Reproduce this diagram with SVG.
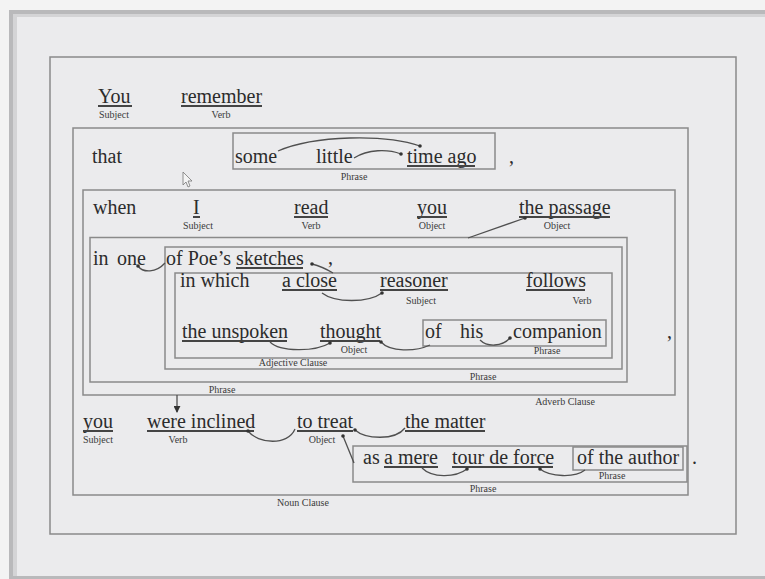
<svg xmlns="http://www.w3.org/2000/svg" width="765" height="579" viewBox="0 0 765 579">
<style>
.w{font-family:"Liberation Serif","Times New Roman",serif;font-size:20px;fill:#2c2c2c}
.l{font-family:"Liberation Serif","Times New Roman",serif;font-size:10px;fill:#3a3a3a;text-anchor:middle}
.box{fill:none;stroke:#8a8a8a;stroke-width:1.5}
.u{stroke:#444;stroke-width:2}
.c{fill:none;stroke:#505050;stroke-width:1.3}
</style>
<defs>
<marker id="dot" viewBox="0 0 4 4" refX="2" refY="2" markerWidth="4" markerHeight="4" markerUnits="userSpaceOnUse"><circle cx="2" cy="2" r="1.8" fill="#333"/></marker>
<marker id="arr" viewBox="0 0 8 8" refX="7" refY="4" markerWidth="7" markerHeight="7" markerUnits="userSpaceOnUse" orient="auto"><path d="M0,0 L8,4 L0,8 z" fill="#333"/></marker>
</defs>
<rect x="0" y="0" width="765" height="579" fill="#f3f3f3"/>
<rect x="9" y="10" width="756" height="569" fill="#b9b9bb"/>
<rect x="13" y="14" width="752" height="562" fill="#d4d4d6"/>
<rect x="17" y="17" width="748" height="559" fill="#ebebed"/>
<rect x="50" y="57" width="686" height="477" class="box" id="frame"/>

<g id="main-clause">
<text class="w" x="98" y="103">You</text><line class="u" x1="98" y1="106" x2="132" y2="106"/>
<text class="l" x="114" y="118">Subject</text>
<text class="w" x="181" y="103">remember</text><line class="u" x1="181" y1="106" x2="262" y2="106"/>
<text class="l" x="221" y="118">Verb</text>
</g>

<g id="noun-clause">
<rect class="box" x="73" y="128" width="615" height="367"/>
<text class="l" x="303" y="506">Noun Clause</text>
<text class="w" x="92" y="163">that</text>
<text class="w" x="509" y="163">,</text>
<text class="w" x="692" y="464">.</text>
</g>

<g id="phrase-time">
<rect class="box" x="233" y="133" width="262" height="36"/>
<text class="w" x="235" y="163">some</text>
<text class="w" x="316" y="163">little</text>
<text class="w" x="407" y="163">time ago</text><line class="u" x1="407" y1="166" x2="475" y2="166"/>
<text class="l" x="354" y="180">Phrase</text>
</g>

<g id="adverb-clause">
<rect class="box" x="83" y="190" width="592" height="205"/>
<text class="l" x="565" y="405">Adverb Clause</text>
<text class="w" x="93" y="214">when</text>
<text class="w" x="193" y="214">I</text><line class="u" x1="193" y1="217" x2="200" y2="217"/>
<text class="l" x="198" y="229">Subject</text>
<text class="w" x="294" y="214">read</text><line class="u" x1="294" y1="217" x2="328" y2="217"/>
<text class="l" x="311" y="229">Verb</text>
<text class="w" x="417" y="214">you</text><line class="u" x1="417" y1="217" x2="447" y2="217"/>
<text class="l" x="432" y="229">Object</text>
<text class="w" x="519" y="214">the passage</text><line class="u" x1="519" y1="217" x2="610" y2="217"/>
<text class="l" x="557" y="229">Object</text>
<text class="w" x="667" y="338">,</text>
</g>

<g id="phrase-one">
<rect class="box" x="90" y="237.5" width="537" height="144.5"/>
<text class="l" x="222" y="393">Phrase</text>
<text class="w" x="93" y="265">in</text>
<text class="w" x="117" y="265">one</text>
</g>

<g id="phrase-sketches">
<rect class="box" x="165" y="247" width="457" height="122"/>
<text class="l" x="483" y="380">Phrase</text>
<text class="w" x="166" y="265">of Poe’s</text>
<text class="w" x="236" y="265">sketches</text><line class="u" x1="236" y1="268" x2="303" y2="268"/>
<text class="w" x="328" y="264">,</text>
</g>

<g id="adjective-clause">
<rect class="box" x="175" y="273" width="437" height="85"/>
<text class="l" x="293" y="366">Adjective Clause</text>
<text class="w" x="180" y="287">in which</text>
<text class="w" x="282" y="287">a close</text><line class="u" x1="282" y1="290" x2="337" y2="290"/>
<text class="w" x="380" y="287">reasoner</text><line class="u" x1="380" y1="290" x2="448" y2="290"/>
<text class="l" x="421" y="304">Subject</text>
<text class="w" x="526" y="287">follows</text><line class="u" x1="526" y1="290" x2="585" y2="290"/>
<text class="l" x="582" y="304">Verb</text>
<text class="w" x="182" y="338">the unspoken</text><line class="u" x1="182" y1="341" x2="287" y2="341"/>
<text class="w" x="320" y="338">thought</text><line class="u" x1="320" y1="341" x2="380" y2="341"/>
<text class="l" x="354" y="353">Object</text>
</g>

<g id="phrase-companion">
<rect class="box" x="423" y="320" width="183" height="26"/>
<text class="w" x="425" y="338">of</text>
<text class="w" x="460" y="338">his</text>
<text class="w" x="513" y="338">companion</text>
<text class="l" x="547" y="354">Phrase</text>
</g>

<g id="noun-clause-main">
<text class="w" x="83" y="428">you</text><line class="u" x1="83" y1="431" x2="113" y2="431"/>
<text class="l" x="98" y="443">Subject</text>
<text class="w" x="147" y="428">were inclined</text><line class="u" x1="147" y1="431" x2="254" y2="431"/>
<text class="l" x="178" y="443">Verb</text>
<text class="w" x="297" y="428">to treat</text><line class="u" x1="297" y1="431" x2="353" y2="431"/>
<text class="l" x="322" y="443">Object</text>
<text class="w" x="405" y="428">the matter</text><line class="u" x1="405" y1="431" x2="485" y2="431"/>
</g>

<g id="phrase-mere">
<rect class="box" x="353" y="446" width="334" height="36"/>
<text class="l" x="483" y="492">Phrase</text>
<text class="w" x="363" y="464">as</text>
<text class="w" x="384" y="464">a mere</text><line class="u" x1="384" y1="467" x2="438" y2="467"/>
<text class="w" x="452" y="464">tour de force</text><line class="u" x1="452" y1="467" x2="553" y2="467"/>
</g>

<g id="phrase-author">
<rect class="box" x="573" y="447" width="110" height="23"/>
<text class="w" x="577" y="464">of the author</text>
<text class="l" x="612" y="479">Phrase</text>
</g>

<g id="connectors">
<path class="c" d="M278,151 C315,135 385,134 420,146" marker-end="url(#dot)"/>
<path class="c" d="M354,158 C368,149 388,149 401,154" marker-end="url(#dot)"/>
<path class="c" d="M525,218 L468,238" marker-start="url(#dot)"/>
<path class="c" d="M138,266 C143,273 156,273 165,263" marker-start="url(#dot)"/>
<path class="c" d="M312,264 C320,266 328,270 333,273" marker-start="url(#dot)"/>
<path class="c" d="M322,293 C335,303 368,303 382,293" marker-end="url(#dot)"/>
<path class="c" d="M270,342 C280,352 315,352 330,343" marker-end="url(#dot)"/>
<path class="c" d="M381,342 C390,352 415,352 430,345" marker-start="url(#dot)"/>
<path class="c" d="M480,340 C487,347 502,347 510,338" marker-end="url(#dot)"/>
<path class="c" d="M177,395 L177,412" marker-end="url(#arr)"/>
<path class="c" d="M248,431 C258,444 288,446 295,429" marker-start="url(#dot)"/>
<path class="c" d="M355,430 C365,439 395,441 405,428" marker-start="url(#dot)"/>
<path class="c" d="M354,463 L343,436" marker-end="url(#dot)"/>
<path class="c" d="M422,468 C432,478 455,478 467,469" marker-end="url(#dot)"/>
<path class="c" d="M585,470 C575,478 550,477 540,469" marker-end="url(#dot)"/>
</g>

<polygon points="183,172 183,185 186,182 188,187 190,186 188,181 192,181" fill="#f4f4f4" stroke="#777" stroke-width="0.8"/>
</svg>
